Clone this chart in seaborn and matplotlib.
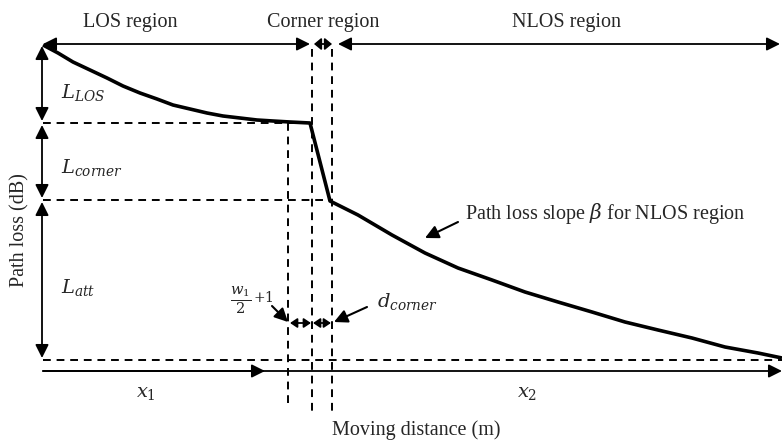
import matplotlib
matplotlib.use("Agg")
import matplotlib.pyplot as plt
import seaborn as sns
import pandas as pd

sns.set_theme(style="white")
plt.rcParams["font.family"] = ["Liberation Serif", "DejaVu Serif"]
plt.rcParams["mathtext.fontset"] = "dejavuserif"

# Path-loss profile along the route (canvas units: x = distance, y = loss, grows downward)
los_distance = [43, 58, 73, 90, 107, 123, 140, 157, 173, 190, 207, 223, 240, 257, 273, 290, 310]
los_loss = [45, 53, 62, 70, 78, 86, 93, 99, 105, 109, 113, 116, 118, 120, 121, 122, 123]
corner_distance = [310, 330]
corner_loss = [123, 201]
nlos_distance = [330, 358, 392, 425, 458, 492, 525, 558, 592, 625, 658, 692, 725, 758, 782]
nlos_loss = [201, 215, 235, 253, 268, 280, 292, 302, 312, 322, 330, 338, 347, 353, 358]

# Reference levels and boundaries
level_los_end = 123
level_corner_end = 200
level_floor = 360
start_x = 43
end_x = 782
x_offset = 288
x_corner_start = 312
x_corner_end = 332
x1_end = 265

region_labels = ["LOS region", "Corner region", "NLOS region"]

profile = pd.DataFrame({
    "distance": los_distance + corner_distance[1:] + nlos_distance[1:],
    "loss": los_loss + corner_loss[1:] + nlos_loss[1:],
})

fig = plt.figure(figsize=(7.82, 4.43), dpi=100)
ax = fig.add_axes([0, 0, 1, 1])
ax.set_xlim(0, 782)
ax.set_ylim(443, 0)
ax.axis("off")

sns.lineplot(data=profile, x="distance", y="loss", ax=ax, color="black",
             lw=2.6, sort=False, estimator=None, solid_capstyle="butt",
             solid_joinstyle="round")

dash = dict(color="black", lw=1.4, linestyle=(0, (4, 3)))
ax.plot([start_x, x_corner_start], [level_los_end] * 2, **dash)
ax.plot([start_x, corner_distance[1]], [level_corner_end] * 2, **dash)
ax.plot([start_x, end_x], [level_floor] * 2, **dash)
ax.plot([x_offset] * 2, [level_los_end, 408], **dash)
ax.plot([x_corner_start] * 2, [49, 413], **dash)
ax.plot([x_corner_end] * 2, [49, 413], **dash)


def arrow(x0, y0, x1, y1, style="-|>", hl=0.8, hw=0.4, scale=10, lw=1.3):
    st = f"{style},head_length={hl},head_width={hw}"
    ax.annotate("", xy=(x1, y1), xytext=(x0, y0),
                arrowprops=dict(arrowstyle=st, mutation_scale=scale, lw=lw,
                                color="black", shrinkA=0, shrinkB=0))


# Region arrows along the top
arrow(start_x, 44, 310, 44, style="<|-|>")
arrow(314, 44, 332, 44, style="<|-|>", hl=0.42, hw=0.35)
arrow(338, 44, 780, 44, style="<|-|>")

# Loss component arrows on the left
arrow(42, 46, 42, 121, style="<|-|>")
arrow(42, 125, 42, 198, style="<|-|>")
arrow(42, 202, 42, 358, style="<|-|>")

# Distance axis and x1 span
arrow(start_x, 371, end_x, 371, lw=1.3)
arrow(start_x, 371, x1_end, 371, lw=1.3)

# Corner width markers
arrow(290, 323, 311, 323, style="<|-|>", hl=0.42, hw=0.28)
arrow(313, 323, 331, 323, style="<|-|>", hl=0.42, hw=0.28)

# Pointer arrows
arrow(272, 306, 288, 322, lw=1.5)
arrow(367, 307, 334, 322, lw=1.5)
arrow(458, 222, 425, 238, lw=1.5)

fs = 14.5
ax.text(130, 22, region_labels[0], fontsize=fs, ha="center", va="center")
ax.text(323, 22, region_labels[1], fontsize=fs, ha="center", va="center")
ax.text(567, 22, region_labels[2], fontsize=fs, ha="center", va="center")

ms = 14
ax.text(61, 92, r"$L_{LOS}$", fontsize=ms, ha="left", va="center")
ax.text(61, 168, r"$L_{corner}$", fontsize=ms, ha="left", va="center")
ax.text(61, 287, r"$L_{att}$", fontsize=ms, ha="left", va="center")
ax.text(230, 300, r"$\frac{w_1}{2}$", fontsize=15, ha="left", va="center")
ax.text(253, 298, r"$+1$", fontsize=10, ha="left", va="center")
ax.text(377, 301, r"$d_{corner}$", fontsize=ms, ha="left", va="center")
ax.text(146, 394, r"$x_1$", fontsize=ms, ha="center", va="center")
ax.text(527, 394, r"$x_2$", fontsize=ms, ha="center", va="center")

ax.text(465, 213, r"Path loss slope $\mathit{\beta}$ for NLOS region",
        fontsize=fs, ha="left", va="center")
ax.text(416, 430, "Moving distance (m)", fontsize=fs, ha="center", va="center")
ax.text(20, 230, "Path loss (dB)", fontsize=fs, ha="center", va="center",
        rotation=90)

fig.savefig("out.png", dpi=100)
